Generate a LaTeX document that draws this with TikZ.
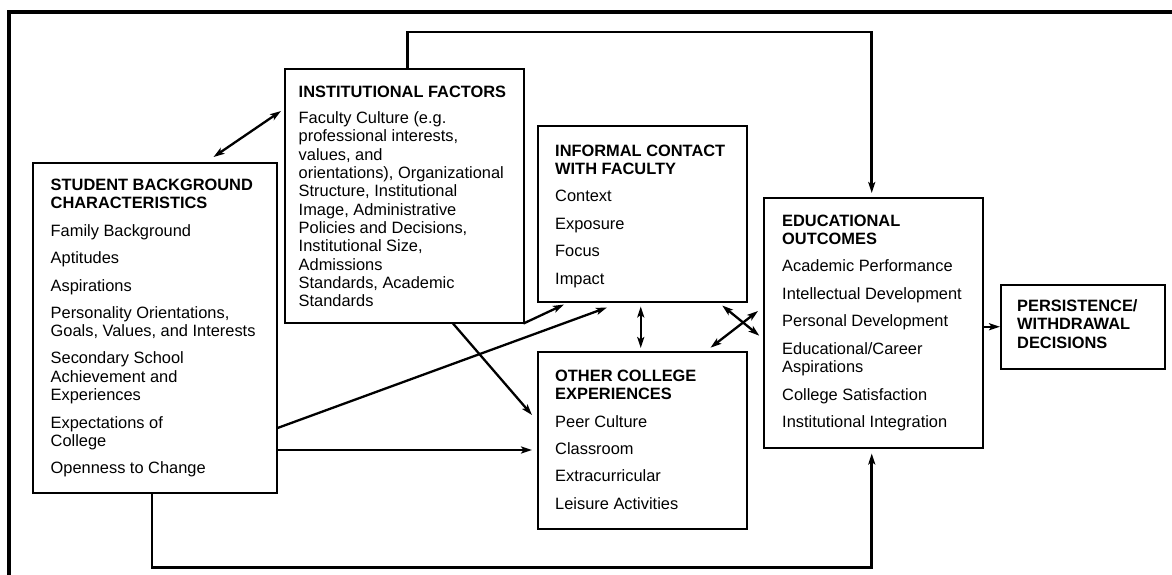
\documentclass[tikz,border=0pt]{standalone}
\usepackage{fontspec}
\setmainfont{Liberation Sans}
\usetikzlibrary{arrows.meta,calc}
\begin{document}
\begin{tikzpicture}[x=1pt,y=-1pt,
  >={Stealth[length=11pt,width=7pt,inset=2.5pt]},
  box/.style={draw, line width=1.5pt, rectangle, inner sep=0pt, anchor=north west},
  txt/.style={anchor=base west, inner sep=0pt, font=\fontsize{16.4}{18}\selectfont},
  hd/.style={anchor=base west, inner sep=0pt, font=\fontsize{16.4}{18}\selectfont\bfseries},
  conn/.style={line width=2.3pt, ->},
  dconn/.style={line width=2.3pt, <->},
  route/.style={line width=2.8pt, ->}
]
\useasboundingbox (0,0) rectangle (1172,574);
\begin{scope}
  \clip (0,0) rectangle (1172,574);
  \draw[line width=4pt] (9,11.5) rectangle (1200,600);
\end{scope}

% boxes
\node[box, minimum width=244pt, minimum height=330pt] (sb)   at (32,162)  {};
\node[box, minimum width=239pt, minimum height=254pt] (inst) at (284,68)  {};
\node[box, minimum width=209pt, minimum height=176pt] (inf)  at (537,125) {};
\node[box, minimum width=209pt, minimum height=177pt] (oth)  at (537,351) {};
\node[box, minimum width=219pt, minimum height=250pt] (edu)  at (763,197) {};
\node[box, minimum width=164pt, minimum height=84pt]  (per)  at (1000,284) {};

% student background
\node[hd] (sbh1) at (50.5,190) {STUDENT BACKGROUND};
\node[hd] (sbh2) at (50.5,208) {CHARACTERISTICS};
\foreach \yy/\s [count=\i] in {236/Family Background, 263/Aptitudes, 291/Aspirations,
  318/{Personality Orientations,}, 336/{Goals, Values, and Interests},
  363/Secondary School, 382/Achievement and, 400/Experiences,
  428/Expectations of, 446/College, 473/Openness to Change}
  \node[txt] (sbt\i) at (50.5,\yy) {\s};

% institutional factors
\node[hd] (insth) at (298.5,97) {INSTITUTIONAL FACTORS};
\foreach \yy/\s [count=\i] in {123.3/{Faculty Culture (e.g.}, 141.6/{professional interests,},
  160/{values, and}, 178.3/{orientations), Organizational}, 196.6/{Structure, Institutional},
  215/{Image, Administrative}, 233.3/{Policies and Decisions,}, 251.6/{Institutional Size,},
  270/Admissions, 288.3/{Standards, Academic}, 306.6/Standards}
  \node[txt] (instt\i) at (298.5,\yy) {\s};

% informal contact
\node[hd] (infh1) at (555,156) {INFORMAL CONTACT};
\node[hd] (infh2) at (555,174.3) {WITH FACULTY};
\foreach \yy/\s [count=\i] in {201.7/Context, 229/Exposure, 256.7/Focus, 284/Impact}
  \node[txt] (inft\i) at (555,\yy) {\s};

% other college experiences
\node[hd] (othh1) at (555,381) {OTHER COLLEGE};
\node[hd] (othh2) at (555,399) {EXPERIENCES};
\foreach \yy/\s [count=\i] in {427/Peer Culture, 454.3/Classroom, 481.7/Extracurricular, 509.3/Leisure Activities}
  \node[txt] (otht\i) at (555,\yy) {\s};

% educational outcomes
\node[hd] (eduh1) at (782,226) {EDUCATIONAL};
\node[hd] (eduh2) at (782,244) {OUTCOMES};
\foreach \yy/\s [count=\i] in {271.7/Academic Performance, 299/Intellectual Development,
  326.3/Personal Development, 354/{Educational/Career}, 372/Aspirations,
  400/College Satisfaction, 427.7/Institutional Integration}
  \node[txt] (edut\i) at (782,\yy) {\s};

% persistence
\node[hd] (perh1) at (1017,311) {PERSISTENCE/};
\node[hd] (perh2) at (1017,329) {WITHDRAWAL};
\node[hd] (perh3) at (1017,348) {DECISIONS};

% connectors
\draw[dconn] ([xshift=181.5pt,yshift=5pt]sb.north west) -- ([xshift=-3pt,yshift=-43pt]inst.north west);
\draw[route] ([xshift=123.5pt]inst.north west) -- ([xshift=123.5pt,yshift=36pt]inst.north west) -| ([xshift=-1.5pt,yshift=4pt]edu.north);
\draw[conn] ([xshift=-1pt]inst.south east) -- ([xshift=27pt,yshift=-2pt]inf.south west);
\draw[conn] ([yshift=-266pt]sb.north east) -- ([xshift=70pt,yshift=-5pt]inf.south west);
\draw[conn] ([xshift=169pt]inst.south west) -- ([xshift=-5pt,yshift=-64pt]oth.north west);
\draw[conn] ([yshift=-288pt]sb.north east) -- ([xshift=-5pt,yshift=-99pt]oth.north west);
\draw[dconn] ([xshift=-1.5pt,yshift=-4pt]inf.south) -- ([xshift=-1.5pt,yshift=3pt]oth.north);
\draw[dconn] ([xshift=-25.3pt,yshift=-3pt]inf.south east) -- ([xshift=-3.7pt,yshift=-138.7pt]edu.north west);
\draw[dconn] ([xshift=-37pt,yshift=3.3pt]oth.north east) -- ([xshift=-5pt,yshift=-114pt]edu.north west);
\draw[conn] (edu.east |- per.west) -- (per.west);
\draw[route] ([xshift=120pt]sb.south west) -- ([xshift=120pt,yshift=-74pt]sb.south west) -| ([xshift=-1.5pt,yshift=-5pt]edu.south);
\end{tikzpicture}
\end{document}
